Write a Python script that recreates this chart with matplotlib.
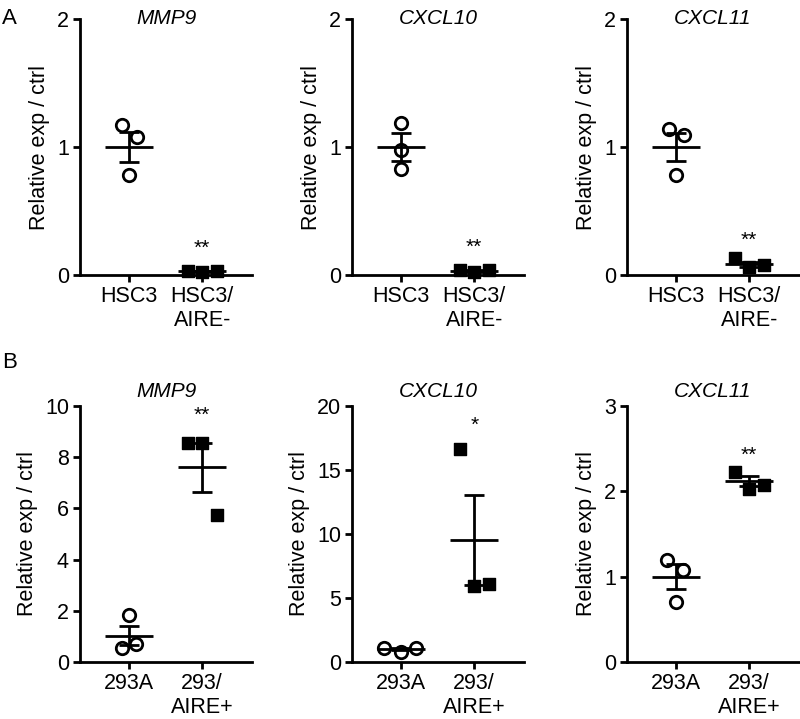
import matplotlib
matplotlib.use('Agg')
import matplotlib.pyplot as plt

plt.rcParams['font.family'] = ['Liberation Sans', 'DejaVu Sans']

# ── Daten ─────────────────────────────────────────────────────────────────────
GENES = ['MMP9', 'CXCL10', 'CXCL11']

TOP_GROUPS = ['HSC3', 'HSC3/\nAIRE-']
BOTTOM_GROUPS = ['293A', '293/\nAIRE+']

# Panel A: Einzelwerte je Gruppe
TOP_CTRL = [[1.17, 1.08, 0.78], [1.19, 0.98, 0.83], [1.14, 1.09, 0.78]]
TOP_TREAT = [[0.03, 0.02, 0.03], [0.04, 0.02, 0.04], [0.13, 0.06, 0.08]]
TOP_MEAN = [[1.0, 0.03], [1.0, 0.03], [1.0, 0.085]]
TOP_SEM = [[0.12, 0.005], [0.11, 0.007], [0.11, 0.02]]
TOP_STARS = ['**', '**', '**']
TOP_STAR_Y = [0.21, 0.22, 0.27]

# Panel B
BOTTOM_CTRL = [[1.83, 0.55, 0.72], [1.1, 0.75, 1.1], [1.20, 1.08, 0.70]]
BOTTOM_TREAT = [[8.57, 8.54, 5.74], [16.64, 5.92, 6.13], [2.23, 2.03, 2.07]]
BOTTOM_MEAN = [[1.03, 7.6], [1.0, 9.55], [1.0, 2.12]]
BOTTOM_SEM = [[0.38, 0.94], [0.1, 3.5], [0.15, 0.06]]
BOTTOM_STARS = ['**', '*', '**']
BOTTOM_STAR_Y = [9.65, 18.5, 2.42]

TOP_YTICKS = [[0, 1, 2], [0, 1, 2], [0, 1, 2]]
BOTTOM_YTICKS = [[0, 2, 4, 6, 8, 10], [0, 5, 10, 15, 20], [0, 1, 2, 3]]

# horizontale Streuung der Punkte
TOP_CTRL_DX = [[-0.09, 0.11, 0.0], [0.0, 0.0, 0.0], [-0.1, 0.11, 0.0]]
BOTTOM_CTRL_DX = [[0.0, -0.1, 0.1], [-0.23, 0.0, 0.2], [-0.12, 0.1, 0.0]]
TREAT_DX = [-0.2, 0.0, 0.2]

# ── Layout ────────────────────────────────────────────────────────────────────
fig = plt.figure(figsize=(8.0, 7.19), dpi=100, facecolor='white')

COL_LEFT = [80 / 800, 352 / 800, 627 / 800]
COL_W = 172 / 800
ROW_BOTTOM = [1 - 275 / 719, 1 - 662 / 719]
ROW_H = 256 / 719
TITLE_Y = [1.0, 1.055]

FS = 15.5
LW = 2.0


def draw_panel(ax, gene, groups, ctrl, treat, mean, sem, yticks,
               ctrl_dx, star, star_y, title_y):
    ymax = yticks[-1]
    for i, (vals, dx) in enumerate([(ctrl, ctrl_dx), (treat, TREAT_DX)]):
        xs = [i + d for d in dx]
        if i == 0:
            ax.scatter(xs, vals, s=80, marker='o', facecolor='white',
                       edgecolor='black', linewidth=2, zorder=2, clip_on=False)
        else:
            ax.scatter(xs, vals, s=85, marker='s', facecolor='black',
                       edgecolor='black', linewidth=1, zorder=2, clip_on=False)
        ax.hlines(mean[i], i - 0.33, i + 0.33, color='black', lw=LW, zorder=3)
        ax.errorbar(i, mean[i], yerr=sem[i], fmt='none', ecolor='black',
                    elinewidth=LW, capsize=7, capthick=LW, zorder=3)

    ax.text(1, star_y, star, ha='center', va='center', fontsize=15)
    ax.text(0.5, title_y, gene, transform=ax.transAxes, ha='center',
            va='center', fontsize=15, style='italic')

    ax.set_xlim(-0.67, 1.68)
    ax.set_ylim(0, ymax)
    ax.set_xticks([0, 1])
    ax.set_xticklabels(groups, fontsize=FS)
    ax.set_yticks(yticks)
    ax.set_yticklabels([str(t) for t in yticks], fontsize=FS)
    ax.set_ylabel('Relative exp / ctrl', fontsize=FS, labelpad=5)

    for side in ['top', 'right']:
        ax.spines[side].set_visible(False)
    for side in ['left', 'bottom']:
        ax.spines[side].set_linewidth(LW)
    ax.tick_params(width=LW, length=5, pad=3)


for c in range(3):
    ax = fig.add_axes([COL_LEFT[c], ROW_BOTTOM[0], COL_W, ROW_H])
    draw_panel(ax, GENES[c], TOP_GROUPS, TOP_CTRL[c], TOP_TREAT[c],
               TOP_MEAN[c], TOP_SEM[c], TOP_YTICKS[c], TOP_CTRL_DX[c],
               TOP_STARS[c], TOP_STAR_Y[c], TITLE_Y[0])

    ax = fig.add_axes([COL_LEFT[c], ROW_BOTTOM[1], COL_W, ROW_H])
    draw_panel(ax, GENES[c], BOTTOM_GROUPS, BOTTOM_CTRL[c], BOTTOM_TREAT[c],
               BOTTOM_MEAN[c], BOTTOM_SEM[c], BOTTOM_YTICKS[c],
               BOTTOM_CTRL_DX[c], BOTTOM_STARS[c], BOTTOM_STAR_Y[c], TITLE_Y[1])

fig.text(2 / 800, 1 - 18 / 719, 'A', fontsize=16, va='center', ha='left')
fig.text(2 / 800, 1 - 362 / 719, 'B', fontsize=16, va='center', ha='left')

fig.savefig('out.png', dpi=100, facecolor='white')
